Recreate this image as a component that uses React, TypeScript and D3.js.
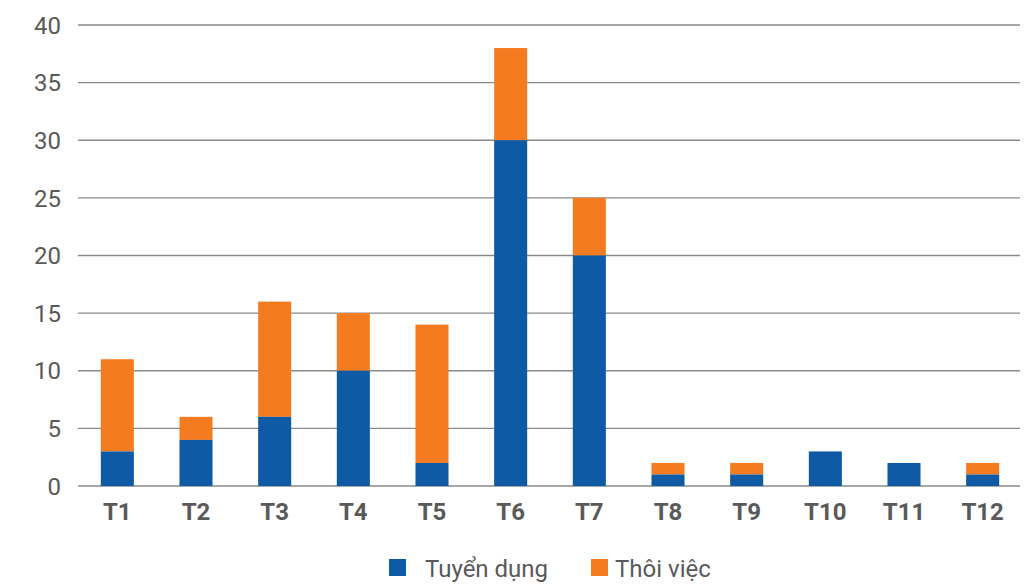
import React from "react";
import * as d3 from "d3";

const categories = ["T1", "T2", "T3", "T4", "T5", "T6", "T7", "T8", "T9", "T10", "T11", "T12"];
const tuyenDung = [3, 4, 6, 10, 2, 30, 20, 1, 1, 3, 2, 1];
const thoiViec = [8, 2, 10, 5, 12, 8, 5, 1, 1, 0, 0, 1];
const yTicks = [0, 5, 10, 15, 20, 25, 30, 35, 40];
const seriesNames = ["Tuyển dụng", "Thôi việc"];
const colors = ["#0F5AA5", "#F47B20"];

export default function App() {
  const W = 1027, H = 584;
  const x = d3.scaleBand<string>().domain(categories).range([78, 1022]).paddingInner(0.58).paddingOuter(0.29);
  const y = d3.scaleLinear().domain([0, 40]).range([486, 25]);
  const font = "Roboto, 'Noto Sans', sans-serif";
  return (
    <svg width={W} height={H} style={{ position: "absolute", left: 0, top: 0 }}>
      {yTicks.map((t) => (
        <g key={t}>
          <line x1={78} x2={1020} y1={y(t)} y2={y(t)} stroke="#8a8a8a" strokeWidth={1.3} />
          <text x={61} y={y(t)} dy="0.36em" textAnchor="end" fontFamily={font} fontSize={24} fill="#595959">{t}</text>
        </g>
      ))}
      {categories.map((c, i) => {
        const bx = x(c)!;
        const bw = x.bandwidth();
        return (
          <g key={c}>
            <rect x={bx} width={bw} y={y(tuyenDung[i] + thoiViec[i])} height={y(tuyenDung[i]) - y(tuyenDung[i] + thoiViec[i])} fill={colors[1]} />
            <rect x={bx} width={bw} y={y(tuyenDung[i])} height={y(0) - y(tuyenDung[i])} fill={colors[0]} />
            <text x={bx + bw / 2} y={520} textAnchor="middle" fontFamily={font} fontWeight="bold" fontSize={24} fill="#595959">{c}</text>
          </g>
        );
      })}
      {seriesNames.map((s, i) => {
        const lx = [389, 591][i];
        return (
          <g key={s}>
            <rect x={lx} y={559} width={17} height={17} fill={colors[i]} />
            <text x={lx + (i === 0 ? 36 : 24)} y={577} fontFamily={font} fontSize={24} fill="#595959">{s}</text>
          </g>
        );
      })}
    </svg>
  );
}
